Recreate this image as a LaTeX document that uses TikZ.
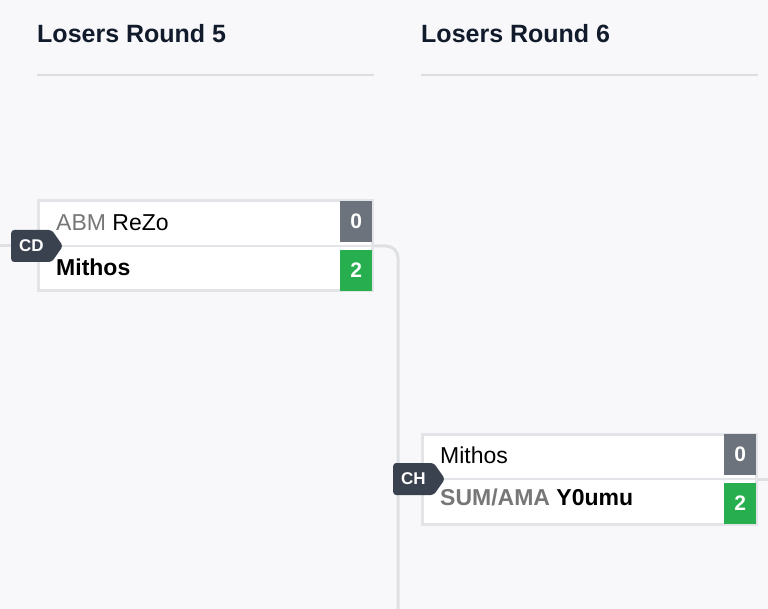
\documentclass[tikz,border=0pt]{standalone}
\usepackage{fontspec}
\setmainfont{Liberation Sans}
\usetikzlibrary{shapes.symbols}
\definecolor{bgc}{HTML}{F8F8FA}
\definecolor{titlec}{HTML}{111B2B}
\definecolor{rulec}{HTML}{DCDDE1}
\definecolor{edgec}{HTML}{E3E4E7}
\definecolor{linkc}{HTML}{DFE0E3}
\definecolor{tagc}{HTML}{3A4250}
\definecolor{losec}{HTML}{6C737C}
\definecolor{winc}{HTML}{27AE4F}
\definecolor{grayc}{HTML}{777777}
\tikzset{
	title/.style={anchor=base west, inner sep=0pt, text=titlec, font=\fontsize{25}{25}\selectfont\bfseries},
	match/.style={draw=edgec, line width=3pt, fill=white, minimum width=334pt, minimum height=90pt, inner sep=0pt},
	score/.style={minimum width=32pt, minimum height=41pt, inner sep=0pt, text=white, font=\fontsize{21}{21}\selectfont\bfseries},
	lose/.style={score, fill=losec},
	win/.style={score, fill=winc},
	team/.style={anchor=base west, inner sep=0pt, font=\fontsize{23}{23}\selectfont},
	tag/.style={signal, signal to=east, signal pointer angle=110, fill=tagc, text=white, rounded corners=3pt, minimum height=32pt, inner xsep=8pt, inner ysep=0pt, anchor=west, font=\fontsize{17}{17}\selectfont\bfseries},
	link/.style={draw=linkc, line width=3pt},
	divider/.style={draw=edgec, line width=2.5pt},
}
\begin{document}
\begin{tikzpicture}[x=1pt, y=-1pt]
				\path[fill=bgc, use as bounding box] (0, 0) rectangle (768, 609);
				\node[title] (h1)at(37, 43) {Losers Round 5};
				\node[title] (h2)at(421, 43) {Losers Round 6};
				\coordinate (r1a)at(37, 75.5);
				\coordinate (r1b)at(374, 75.5);
				\coordinate (r2a)at(421, 75.5);
				\coordinate (r2b)at(758, 75.5);
				\draw[rulec, line width=2pt] (r1a) -- (r1b);
				\draw[rulec, line width=2pt] (r2a) -- (r2b);
				\node[match] (m1)at(205.5, 246) {};
				\node[match] (m2)at(589.5, 479) {};
				\coordinate (in1)at(0, 246);
				\coordinate (out1)at(398, 609);
				\coordinate (out2)at(768, 479);
				\draw[link] (in1) -- (m1.west);
				\draw[link, rounded corners=12pt] (m1.east) -| (out1);
				\draw[link] (m2.east) -- (out2);
				\draw[divider] (m1.west) -- (m1.east);
				\draw[divider] (m2.west) -- (m2.east);
				\node[lose, anchor=north east] (s1a)at([shift={(-1.5, 1.5)}]m1.north east) {0};
				\node[win, anchor=south east] (s1b)at([shift={(-1.5, -1.5)}]m1.south east) {2};
				\node[lose, anchor=north east] (s2a)at([shift={(-1.5, 1.5)}]m2.north east) {0};
				\node[win, anchor=south east] (s2b)at([shift={(-1.5, -1.5)}]m2.south east) {2};
				\node[team] (p1a)at(56, 231) {{\color{grayc}ABM} ReZo};
				\node[team] (p1b)at(56, 276) {\bfseries Mithos};
				\node[team] (p2a)at(440, 463.5) {Mithos};
				\node[team] (p2b)at(440, 505) {\bfseries{\color{grayc}SUM/AMA} Y0umu};
				\node[tag] (c1)at(11, 246) {CD};
				\node[tag] (c2)at(393, 479) {CH};
		\end{tikzpicture}
\end{document}
